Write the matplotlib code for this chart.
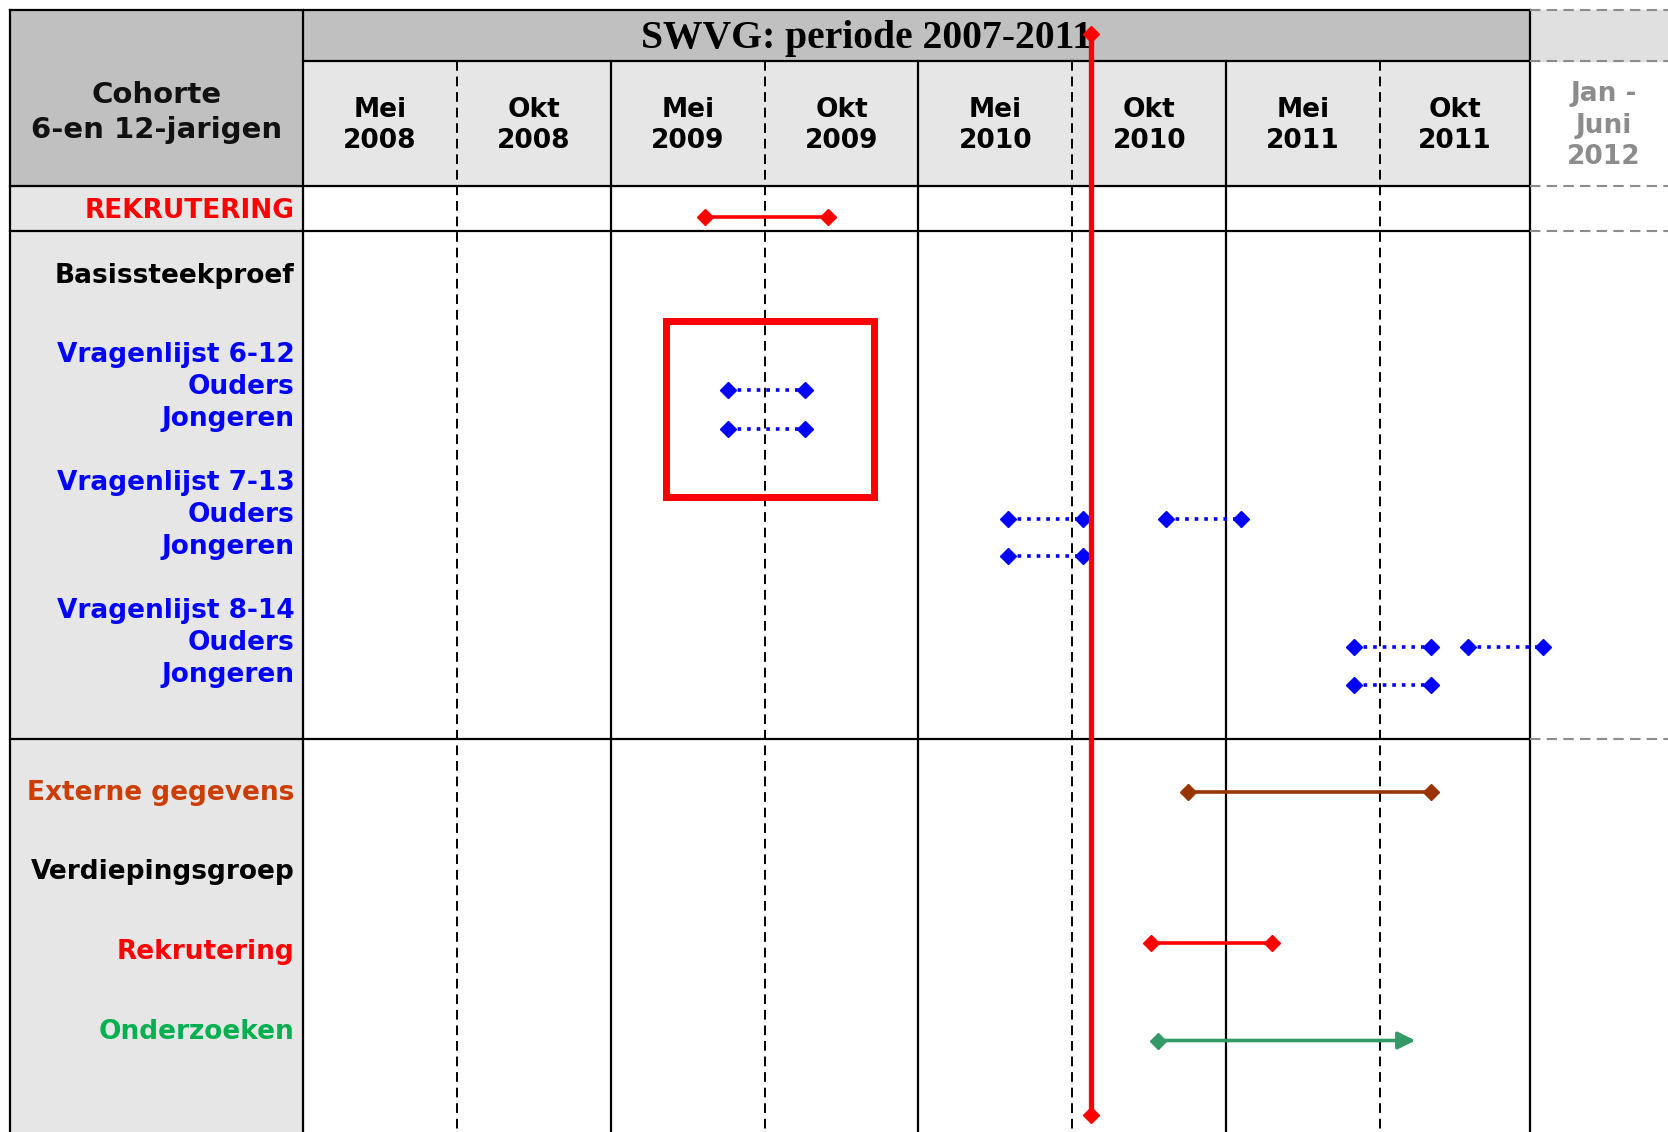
import matplotlib.pyplot as plt
from matplotlib.patches import Rectangle

# periods (each column = one half-year slot on the x axis)
periods = ['Mei\n2008', 'Okt\n2008', 'Mei\n2009', 'Okt\n2009',
           'Mei\n2010', 'Okt\n2010', 'Mei\n2011', 'Okt\n2011']
extra_period = 'Jan -\nJuni\n2012'
title = 'SWVG: periode 2007-2011'

# bars: (start, end) in column units
rekrutering_top = [(2.61, 3.41)]
vl612_ouders = [(2.76, 3.26)]
vl612_jongeren = [(2.76, 3.26)]
vl713_ouders = [(4.58, 5.07), (5.61, 6.10)]
vl713_jongeren = [(4.58, 5.07)]
vl814_ouders = [(6.83, 7.33), (7.57, 8.06)]
vl814_jongeren = [(6.83, 7.33)]
externe = [(5.75, 7.33)]
rekrutering_low = [(5.51, 6.30)]
onderzoeken = [(5.56, 7.23)]
now_x = 5.12
box_x = (2.36, 3.71)

U = 144.6  # pixels per column in the 1568 wide frame


def px(x):
    return (x - 285) / U


fig = plt.figure(figsize=(16.68, 11.32), dpi=100)
ax = fig.add_axes([0, 0, 1, 1])
ax.set_xlim(px(0), px(1568))
ax.set_ylim(1064, 0)
ax.axis('off')

L, C0, CR = px(9), 0, px(1438)

# backgrounds
ax.add_patch(Rectangle((L, 9), C0 - L, 1100, color='#e6e6e6', zorder=0))
ax.add_patch(Rectangle((L, 9), C0 - L, 166, color='#c0c0c0', zorder=0))
ax.add_patch(Rectangle((C0, 9), CR, 48, color='#c0c0c0', zorder=0))
ax.add_patch(Rectangle((C0, 57), CR, 118, color='#e6e6e6', zorder=0))
ax.add_patch(Rectangle((CR, 9), px(1568) - CR, 48, color='#e0e0e0', zorder=0))

# frame lines
lw = 1.6
for y in [9, 175, 217, 695]:
    ax.plot([L, CR], [y, y], color='black', lw=lw, zorder=2)
ax.plot([C0, CR], [57, 57], color='black', lw=lw, zorder=2)
ax.plot([L, L], [9, 1064], color='black', lw=lw, zorder=2)
ax.plot([C0, C0], [9, 1064], color='black', lw=lw, zorder=2)
ax.plot([CR, CR], [9, 1064], color='black', lw=lw, zorder=2)
for c in [2, 4, 6]:
    ax.plot([c, c], [57, 1064], color='black', lw=lw, zorder=2)
for c in [1, 3, 5, 7]:
    ax.plot([c, c], [57, 1064], color='black', lw=1.4, dashes=(5, 3), zorder=2)
for y in [9, 57, 175, 217, 695]:
    ax.plot([CR, px(1568)], [y, y], color='#8c8c8c', lw=1.5, dashes=(5, 3), zorder=2)

# header texts
ax.text(px(603), 36, title, fontsize=28.5, family='Liberation Serif',
        fontweight='bold', ha='left', va='center', zorder=3)
ax.text(px(147), 89, 'Cohorte', fontsize=21, ha='center', va='center',
        fontweight='bold', color='#111111', zorder=3)
ax.text(px(147), 122, '6-en 12-jarigen', fontsize=21, ha='center', va='center',
        fontweight='bold', color='#111111', zorder=3)
col_centers = [i + 0.5 for i in range(7)] + [(7 + CR) / 2]
for xc, p in zip(col_centers, periods):
    for j, part in enumerate(p.split('\n')):
        ax.text(xc, 103 + j * 30, part, fontsize=19, ha='center',
                va='center', fontweight='bold', zorder=3)
for j, part in enumerate(extra_period.split('\n')):
    ax.text(px(1508), 88 + j * 30, part, fontsize=19, ha='center',
            va='center', fontweight='bold', color='#8c8c8c', zorder=3)

# row labels
lx = px(277)
labels = [
    ('REKRUTERING', 198, '#ff0000'),
    ('Basissteekproef', 259, 'black'),
    ('Vragenlijst 6-12', 334, '#0000ff'),
    ('Ouders', 364, '#0000ff'),
    ('Jongeren', 394, '#0000ff'),
    ('Vragenlijst 7-13', 454, '#0000ff'),
    ('Ouders', 484, '#0000ff'),
    ('Jongeren', 514, '#0000ff'),
    ('Vragenlijst 8-14', 574, '#0000ff'),
    ('Ouders', 604, '#0000ff'),
    ('Jongeren', 634, '#0000ff'),
    ('Externe gegevens', 745, '#cc3d00'),
    ('Verdiepingsgroep', 820, 'black'),
    ('Rekrutering', 895, '#ff0000'),
    ('Onderzoeken', 970, '#00b050'),
]
for txt, y, col in labels:
    ax.text(lx, y, txt, fontsize=19, ha='right', va='center',
            fontweight='bold', color=col, zorder=3)


def solid_bars(spans, y, color):
    for a, b in spans:
        ax.plot([a, b], [y, y], color=color, lw=2.6, marker='D',
                markersize=8, zorder=4)


def dotted_bars(spans, y):
    for a, b in spans:
        ax.plot([a, b], [y, y], color='#0000ff', lw=2.6, ls=':', zorder=4)
        ax.plot([a, b], [y, y], color='#0000ff', ls='none', marker='D',
                markersize=8.5, zorder=4)


solid_bars(rekrutering_top, 204, '#ff0000')
dotted_bars(vl612_ouders, 367)
dotted_bars(vl612_jongeren, 403)
dotted_bars(vl713_ouders, 488)
dotted_bars(vl713_jongeren, 523)
dotted_bars(vl814_ouders, 608)
dotted_bars(vl814_jongeren, 644)
solid_bars(externe, 744, '#993300')
solid_bars(rekrutering_low, 886, '#ff0000')

for a, b in onderzoeken:
    ax.annotate('', xy=(b, 978), xytext=(a, 978), zorder=4,
                arrowprops=dict(arrowstyle='-|>', color='#339966', lw=2.6,
                                mutation_scale=26, shrinkA=0, shrinkB=0))
    ax.plot([a], [978], color='#339966', marker='D', markersize=8, zorder=4)

# red box around first questionnaire
ax.add_patch(Rectangle((box_x[0], 302), box_x[1] - box_x[0], 165, fill=False,
                       edgecolor='#ff0000', lw=5, zorder=4))

# current moment line
ax.plot([now_x, now_x], [32, 1048], color='#ff0000', lw=3.8, marker='D',
        markersize=8, zorder=5)

fig.savefig('out.png', dpi=100)
